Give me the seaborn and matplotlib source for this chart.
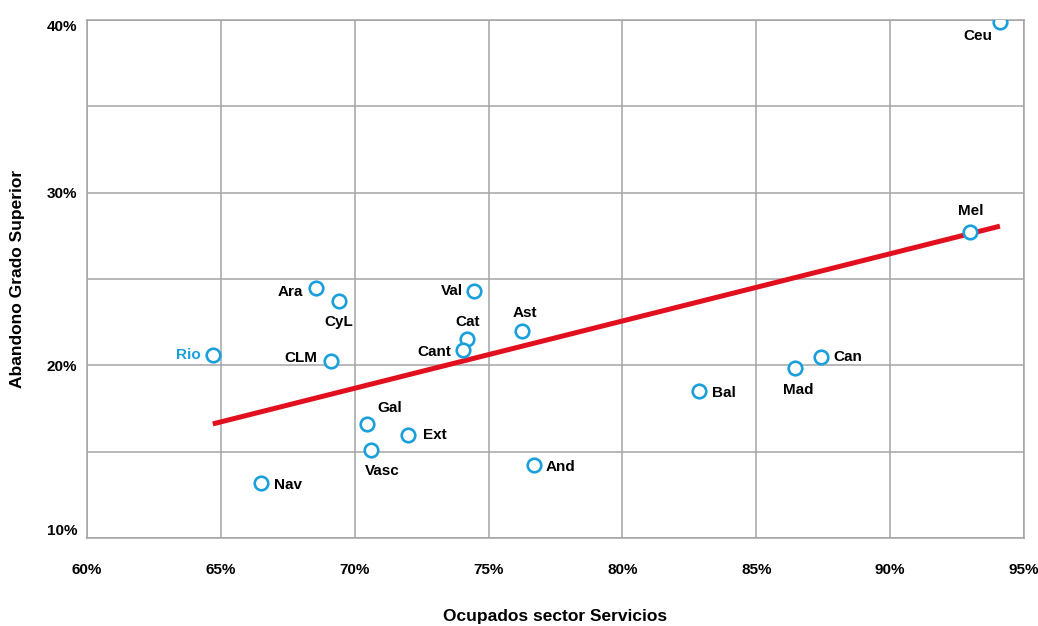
import matplotlib
matplotlib.use("Agg")
import matplotlib.pyplot as plt
import seaborn as sns
import numpy as np
import pandas as pd

# data (percent)
regions = ["Ceu", "Mel", "Ara", "CyL", "Val", "Ast", "Cat", "Cant", "Rio", "CLM",
           "Mad", "Can", "Bal", "Gal", "Ext", "Vasc", "And", "Nav"]
servicios = [94.1, 93.0, 68.55, 69.4, 74.45, 76.25, 74.2, 74.05, 64.7, 69.1,
             86.45, 87.4, 82.85, 70.45, 72.0, 70.6, 76.7, 66.5]
abandono = [39.9, 27.7, 24.5, 23.7, 24.3, 22.0, 21.5, 20.9, 20.6, 20.25,
            19.85, 20.5, 18.5, 16.6, 15.95, 15.1, 14.2, 13.2]

xticks = [60, 65, 70, 75, 80, 85, 90, 95]
yticks = [10, 15, 20, 25, 30, 35, 40]
ylabels = ["10%", "", "20%", "", "30%", "", "40%"]

df = pd.DataFrame({"region": regions, "x": servicios, "y": abandono})

# label placement: offset in pixels and alignment
label_pos = {
    "Ceu": (-8, -14, "right"), "Mel": (0, 21, "center"), "Ara": (-13, -4, "right"),
    "CyL": (0, -21, "center"), "Val": (-11, 0, "right"), "Ast": (3, 18, "center"),
    "Cat": (0, 17, "center"), "Cant": (-12, -2, "right"), "Rio": (-12, 0, "right"),
    "CLM": (-13, 3, "right"), "Mad": (3, -22, "center"), "Can": (13, 0, "left"),
    "Bal": (13, -2, "left"), "Gal": (11, 16, "left"), "Ext": (15, 0, "left"),
    "Vasc": (11, -21, "center"), "And": (12, -2, "left"), "Nav": (13, -2, "left"),
}

blue = "#1a9fdd"
red = "#e20f1e"
grid = "#a4a4a4"

sns.set_style("white")
plt.rcParams["font.family"] = ["Liberation Sans", "DejaVu Sans"]

fig = plt.figure(figsize=(10.38, 6.26), dpi=100)
ax = fig.add_axes([87 / 1038, 1 - 538 / 626, 937 / 1038, 518 / 626])

sns.regplot(data=df, x="x", y="y", scatter=False, ci=None, ax=ax,
            line_kws={"color": red, "lw": 3.6, "solid_capstyle": "butt", "zorder": 3})
sns.scatterplot(data=df, x="x", y="y", ax=ax, s=95, marker="o",
                facecolor="white", edgecolor=blue, linewidth=1.9, zorder=4)

for r, xv, yv in zip(regions, servicios, abandono):
    dx, dy, ha = label_pos[r]
    ax.annotate(r, (xv, yv), xytext=(dx, dy), textcoords="offset pixels",
                ha=ha, va="center", fontsize=11, fontweight="bold",
                color=blue if r == "Rio" else "black", zorder=5)

ax.set_xlim(60, 95)
ax.set_ylim(10, 40)
ax.set_xticks(xticks)
ax.set_xticklabels([f"{v}%" for v in xticks])
ax.set_yticks(yticks)
ax.set_yticklabels(ylabels)
ax.tick_params(axis="x", length=0, pad=18, labelsize=11, labelcolor="black")
ax.tick_params(axis="y", length=0, pad=7, labelsize=11, labelcolor="black")
for lab in ax.get_xticklabels() + ax.get_yticklabels():
    lab.set_fontweight("bold")
ylabs = ax.get_yticklabels()
ylabs[0].set_va("bottom")
ylabs[-1].set_va("top")
ax.grid(True, color=grid, lw=1.1)
ax.set_axisbelow(True)
for sp in ax.spines.values():
    sp.set_color(grid)
    sp.set_linewidth(1.1)

ax.set_xlabel("Ocupados sector Servicios", fontsize=12.5, fontweight="bold",
              va="center", color="black")
ax.set_ylabel("Abandono Grado Superior", fontsize=12.5, fontweight="bold",
              va="center", color="black")
ax.xaxis.set_label_coords(0.5, (538 - 617) / 518)
ax.yaxis.set_label_coords((18 - 87) / 937, 0.5)

fig.savefig("out.png", dpi=100)
